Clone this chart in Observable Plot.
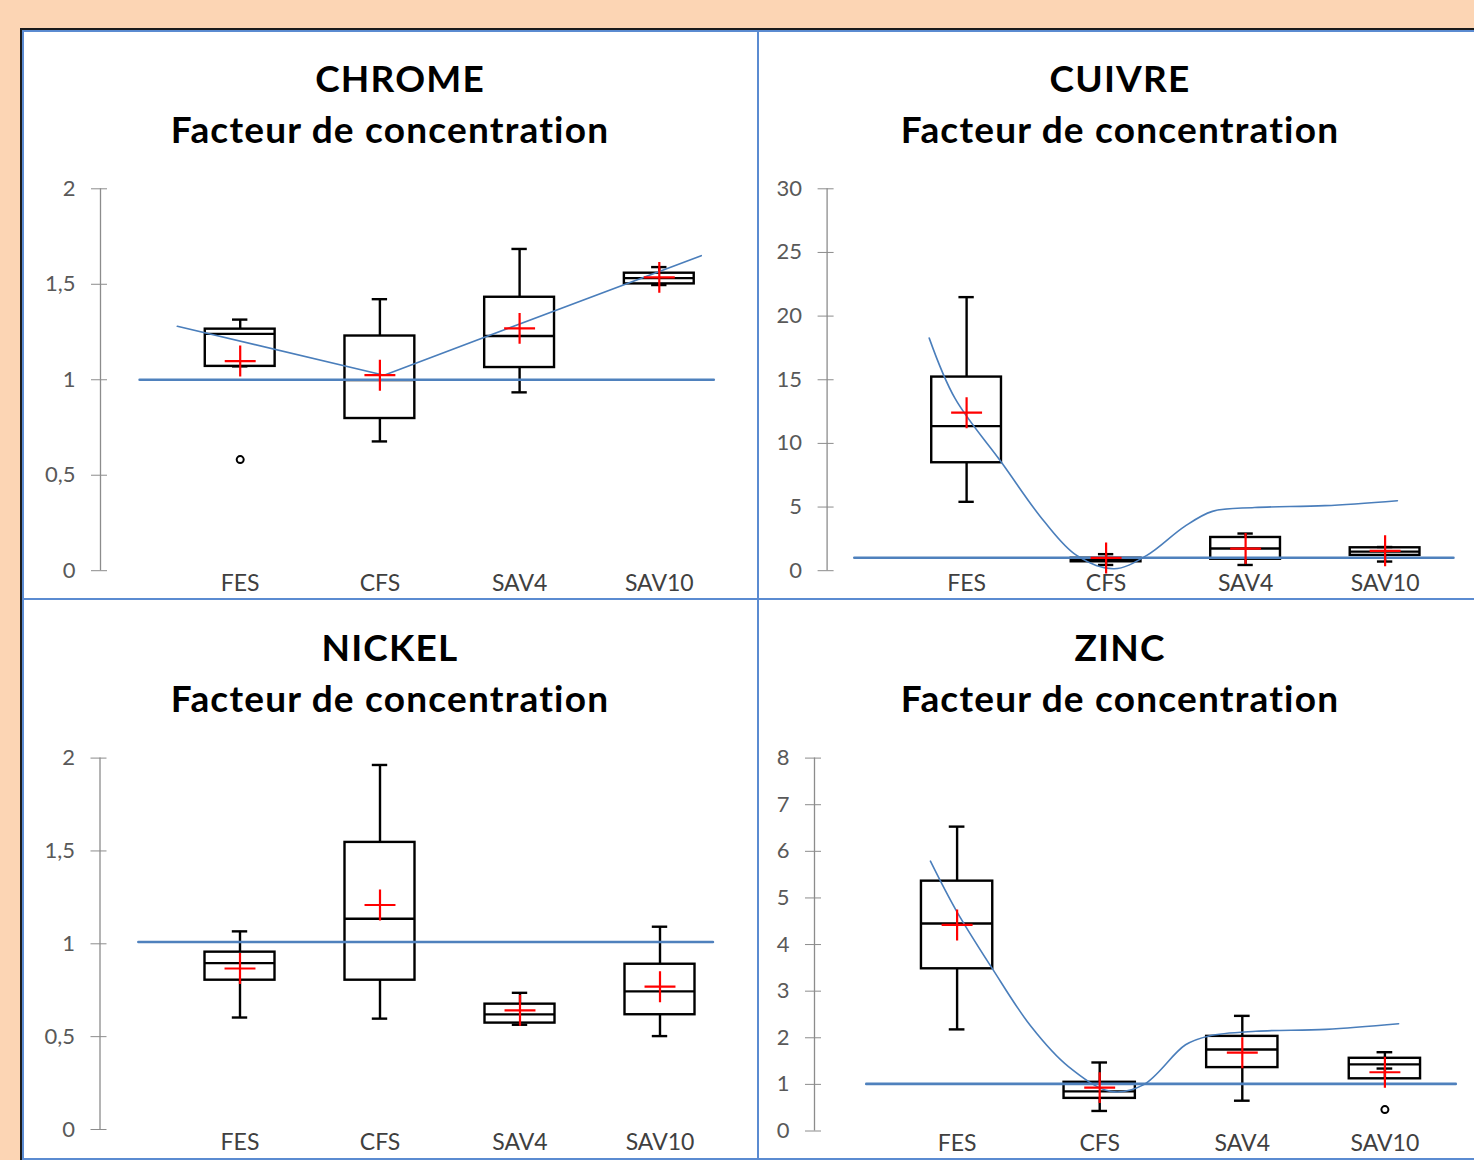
<!DOCTYPE html>
<html>
<head>
<meta charset="utf-8">
<script src="https://cdn.jsdelivr.net/npm/d3@7"></script>
<script src="https://cdn.jsdelivr.net/npm/@observablehq/plot@0.6"></script>
<style>
  html, body { margin: 0; padding: 0; }
  body { width: 1474px; height: 1160px; background: #FCD5B4; position: relative; overflow: hidden; font-family: Lato, "Open Sans", sans-serif; }
  .frameTop { position: absolute; left: 20px; top: 28px; width: 1454px; height: 2px; background: #1a1a1a; }
  .frameLeft { position: absolute; left: 20px; top: 28px; width: 2px; height: 1132px; background: #1a1a1a; }
  .panel { position: absolute; background: #fff; border: 2px solid #5B8BD1; box-sizing: border-box; }
  .title { position: absolute; text-align: center; font-weight: 700; color: #000; font-size: 37px; line-height: 34px; letter-spacing: 1.2px; white-space: nowrap; }
  svg.chart { position: absolute; overflow: visible; }
</style>
</head>
<body>
<div class="frameTop"></div>
<div class="frameLeft"></div>
<div class="panel" style="left:22px;top:30px;width:737px;height:570px"></div>
<div class="panel" style="left:757px;top:30px;width:740px;height:570px"></div>
<div class="panel" style="left:22px;top:598px;width:737px;height:562px"></div>
<div class="panel" style="left:757px;top:598px;width:740px;height:562px"></div>
<script>
const categories = ["FES", "CFS", "SAV4", "SAV10"];
const subtitle = "Facteur de concentration";

// Box rows per category: [whiskerLow, Q1, median, Q3, whiskerHigh, mean]
const chromeBoxes = [
  [1.07, 1.07, 1.24, 1.265, 1.315, 1.098],
  [0.677, 0.797, 0.998, 1.229, 1.422, 1.024],
  [0.934, 1.064, 1.229, 1.432, 1.685, 1.269],
  [1.496, 1.502, 1.532, 1.558, 1.59, 1.536]
];
const chromeOutliers = [["FES", 0.582]];
const chromeTrend = [[-0.45, 1.28], [1.03, 1.024], [3.30, 1.65]];
const chromeRef = [[-0.72, 1], [3.39, 1]];
const chromeTicks = [0, 0.5, 1, 1.5, 2];

const cuivreBoxes = [
  [5.41, 8.48, 11.36, 15.21, 21.49, 12.41],
  [0.45, 0.7, 0.82, 0.98, 1.3, 1.0],
  [0.45, 0.9, 1.74, 2.61, 2.92, 1.74],
  [0.72, 1.2, 1.5, 1.8, 1.86, 1.56]
];
const cuivreOutliers = [];
const cuivreTrend = [[-0.268, 18.27], [-0.083, 13.53], [0.252, 8.48], [0.554, 3.9], [0.789, 1.2], [1.057, 0.15], [1.292, 1.2], [1.561, 3.46], [1.762, 4.66], [2.064, 4.96], [2.568, 5.11], [3.088, 5.5]];
const cuivreRef = [[-0.805, 1.02], [3.49, 1.02]];
const cuivreTicks = [0, 5, 10, 15, 20, 25, 30];

const nickelBoxes = [
  [0.603, 0.804, 0.896, 0.955, 1.067, 0.867],
  [0.597, 0.804, 1.135, 1.546, 1.963, 1.209],
  [0.564, 0.573, 0.62, 0.675, 0.736, 0.642],
  [0.503, 0.618, 0.744, 0.89, 1.092, 0.769]
];
const nickelOutliers = [];
const nickelTrend = [];
const nickelRef = [[-0.726, 1.01], [3.378, 1.01]];
const nickelTicks = [0, 0.5, 1, 1.5, 2];

const zincBoxes = [
  [2.18, 3.48, 4.45, 5.36, 6.53, 4.42],
  [0.43, 0.70, 0.85, 1.045, 1.47, 0.93],
  [0.65, 1.36, 1.75, 2.03, 2.47, 1.68],
  [1.34, 1.12, 1.43, 1.56, 1.69, 1.26]
];
const zincOutliers = [["SAV10", 0.46]];
const zincTrend = [[-0.187, 5.79], [-0.006, 4.73], [0.246, 3.49], [0.519, 2.24], [0.781, 1.38], [1.077, 0.85], [1.306, 0.99], [1.602, 1.85], [1.766, 2.04], [2.095, 2.14], [2.587, 2.18], [3.096, 2.30]];
const zincRef = [[-0.637, 1.01], [3.497, 1.01]];
const zincTicks = [0, 1, 2, 3, 4, 5, 6, 7, 8];

const panels = [
  {name: "CHROME", boxes: chromeBoxes, outliers: chromeOutliers, trend: chromeTrend, curve: "linear", ref: chromeRef, ticks: chromeTicks,
   left: 22, top: 31, width: 736, height: 567, titleWidth: 736, titleShift: 5, mL: 78, step: 139.7, mT: 157.3, mB: 27.8},
  {name: "CUIVRE", boxes: cuivreBoxes, outliers: cuivreOutliers, trend: cuivreTrend, curve: "catmull-rom", ref: cuivreRef, ticks: cuivreTicks,
   left: 758, top: 31, width: 716, height: 567, titleWidth: 724, titleShift: 0, mL: 68.6, step: 139.5, mT: 157.3, mB: 27.8},
  {name: "NICKEL", boxes: nickelBoxes, outliers: nickelOutliers, trend: nickelTrend, curve: "linear", ref: nickelRef, ticks: nickelTicks,
   left: 22, top: 600, width: 736, height: 558, titleWidth: 736, titleShift: 0, mL: 77.5, step: 140, mT: 157.6, mB: 29},
  {name: "ZINC", boxes: zincBoxes, outliers: zincOutliers, trend: zincTrend, curve: "catmull-rom", ref: zincRef, ticks: zincTicks,
   left: 758, top: 600, width: 716, height: 558, titleWidth: 724, titleShift: 0, mL: 56, step: 142.6, mT: 157.6, mB: 27.5}
];

const HALF = 0.25, CAP = 0.055;
const xDomain = [-1, 3.5];
const fmt = d => String(d).replace(".", ",");

for (const p of panels) {
  const rows = p.boxes.map((b, i) => ({i, lo: b[0], q1: b[1], med: b[2], q3: b[3], hi: b[4], mean: b[5]}));
  const yDomain = [p.ticks[0], p.ticks[p.ticks.length - 1]];
  const mR = p.width - p.mL - p.step * (xDomain[1] - xDomain[0]);
  const box = {stroke: "#000", strokeWidth: 2.4};
  const chart = Plot.plot({
    width: p.width,
    height: p.height,
    marginLeft: p.mL,
    marginRight: mR,
    marginTop: p.mT,
    marginBottom: p.mB,
    style: {background: "transparent", fontFamily: "Lato, 'Open Sans', sans-serif", fontSize: "22px", overflow: "visible"},
    x: {domain: xDomain, label: null},
    y: {domain: yDomain, label: null},
    marks: [
      Plot.ruleX([xDomain[0]], {y1: yDomain[0], y2: yDomain[1], stroke: "#8c8c8c", strokeWidth: 1.3}),
      Plot.axisY({ticks: p.ticks, tickFormat: fmt, tickSize: 16, dx: 7, tickPadding: 16, stroke: "#8c8c8c", fill: "#595959", fontSize: 22, label: null}),
      Plot.axisX({ticks: [0, 1, 2, 3], tickFormat: i => categories[i], tickSize: 0, tickPadding: 4, fill: "#404040", fontSize: 23, label: null}),
      Plot.rect(rows, {x1: d => d.i - HALF, x2: d => d.i + HALF, y1: "q1", y2: "q3", fill: "none", ...box}),
      Plot.ruleX(rows, {x: "i", y1: "q3", y2: "hi", ...box}),
      Plot.ruleX(rows, {x: "i", y1: "lo", y2: "q1", ...box}),
      Plot.ruleY(rows, {y: "hi", x1: d => d.i - CAP, x2: d => d.i + CAP, ...box}),
      Plot.ruleY(rows, {y: "lo", x1: d => d.i - CAP, x2: d => d.i + CAP, ...box}),
      Plot.ruleY(rows, {y: "med", x1: d => d.i - HALF, x2: d => d.i + HALF, ...box}),
      Plot.dot(p.outliers, {x: d => categories.indexOf(d[0]), y: d => d[1], r: 3.5, stroke: "#000", strokeWidth: 2, fill: "#fff"}),
      Plot.line(p.ref, {x: d => d[0], y: d => d[1], stroke: "#4F81BD", strokeWidth: 2.6}),
      Plot.line(p.trend, {x: d => d[0], y: d => d[1], stroke: "#4A7EBB", strokeWidth: 1.6, curve: p.curve}),
      Plot.dot(rows, {x: "i", y: "mean", symbol: "plus", r: 10, stroke: "#FF0000", strokeWidth: 2.2})
    ]
  });
  chart.classList.add("chart");
  chart.style.left = p.left + "px";
  chart.style.top = p.top + "px";
  chart.style.maxWidth = "none";
  document.body.appendChild(chart);

  const t1 = document.createElement("div");
  t1.className = "title";
  t1.textContent = p.name;
  t1.style.left = (p.left + p.titleShift * 2) + "px";
  t1.style.width = p.titleWidth + "px";
  t1.style.top = (p.top + 30) + "px";
  document.body.appendChild(t1);
  const t2 = document.createElement("div");
  t2.className = "title";
  t2.textContent = subtitle;
  t2.style.left = p.left + "px";
  t2.style.width = p.titleWidth + "px";
  t2.style.top = (p.top + 81) + "px";
  document.body.appendChild(t2);
}
</script>
</body>
</html>
